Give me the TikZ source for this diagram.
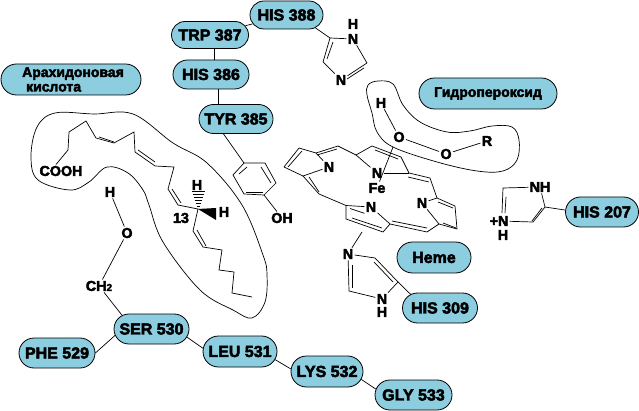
\documentclass[tikz,border=0pt]{standalone}
\usepackage{fontspec}
\usepackage{tikz}
\usetikzlibrary{shapes.misc}
\newfontfamily\chemfont{Liberation Sans}[BoldFeatures={FakeBold=3}]
\definecolor{pillblue}{RGB}{140,205,224}
\tikzset{
    pill/.style={rounded rectangle, draw=black, fill=pillblue, text centered, line width=0.8pt, minimum width=75pt, minimum height=30pt, inner sep=0pt, font=\chemfont\bfseries\fontsize{16}{16}\selectfont},
    textpill/.style={pill, font=\chemfont\bfseries\fontsize{14}{14.5}\selectfont},
    atom/.style={inner sep=1.2pt, font=\chemfont\bfseries\fontsize{14.3}{14}\selectfont},
    bond/.style={line width=0.7pt, line join=miter},
    outline/.style={line width=0.7pt, smooth cycle, tension=0.6}
}
\begin{document}
\begin{tikzpicture}[x=1pt, y=-1pt]
    \useasboundingbox (0,0) rectangle (639,411);

    % Residue pills
    \node (HIS388) [pill, minimum width=73pt, minimum height=28pt] at (286.5,15) {HIS 388};
    \node (TRP387) [pill, minimum width=77pt, minimum height=27pt] at (210,35) {TRP 387};
    \node (HIS386) [pill, minimum width=76pt, minimum height=29pt] at (211,74.5) {HIS 386};
    \node (TYR385) [pill, minimum width=74pt, minimum height=29pt] at (236,119) {TYR 385};
    \node (HIS207) [pill, minimum width=73pt] at (602,212) {HIS 207};
    \node (HIS309) [pill] at (440,308) {HIS 309};
    \node (SER530) [pill] at (151.5,329) {SER 530};
    \node (PHE529) [pill, minimum width=76pt] at (57,353) {PHE 529};
    \node (LEU531) [pill, minimum width=74pt, minimum height=31pt] at (240,351.5) {LEU 531};
    \node (LYS532) [pill, minimum width=72pt, minimum height=31pt] at (327,371.5) {LYS 532};
    \node (GLY533) [pill, minimum width=77pt] at (413.5,395) {GLY 533};
    \node (acid) [textpill, minimum width=140pt, minimum height=31pt, align=left] at (71,79.5) {\hspace*{4pt}Арахидоновая\\\hspace*{8pt}кислота};
    \node (peroxide) [textpill, minimum width=138pt, minimum height=31pt] at (488,93.5) {Гидропероксид};
    \node (heme) [pill, minimum width=74pt, minimum height=31pt] at (434,257.5) {Heme};

    % Residue links
    \draw [bond] (TRP387) -- (HIS388);
    \draw [bond] ([xshift=4.5pt]TRP387.south) -- ([xshift=3.5pt]HIS386.north);
    \draw [bond] ([xshift=7pt]HIS386.south) -- ([xshift=-18pt]TYR385.north);
    \draw [bond] (SER530.190) -- (PHE529.0);
    \draw [bond] (SER530.-13) -- (LEU531.175);
    \draw [bond] (LEU531.-13) -- (LYS532.176);
    \draw [bond] (LYS532.-13) -- (GLY533.171);

    % Arachidonic acid
    \draw [outline] plot coordinates {(133,114) (94,114) (55,113) (37,127) (31,157) (38,180) (70,190) (89,182) (107,167) (128,173) (143,190) (149,205) (163,242) (200,290) (233,310) (252,318) (265,302) (267,275) (263,255) (242,205) (207,163) (173,143)};
    \node (COOH) [atom] at (61,171) {COOH};
    \coordinate (c13) at (198,209);
    \draw [bond] ([xshift=-5pt]COOH.north) -- (68,150) -- (69,132) -- (86,121) -- (96,138) -- (114,143) -- (134,132) -- (135,152) -- (155,166) -- (174,167) -- (168,189) -- (178,205) -- (c13) -- (193,231) -- (203,247) -- (222,250) -- (219,270) -- (234,272) -- (232,293) -- (252,297);
    \draw [bond] (99,137) -- (114,142);
    \draw [bond] (138,150) -- (155,162);
    \draw [bond] (172,189) -- (181,203);
    \draw [bond] (197,230) -- (206,246);
    \node (c13label) [atom] at (181,218) {13};
    \node (Htop) [atom] at (197,185) {H};
    \node (Hright) [atom] at (224,212) {H};
    \fill (c13) -- (216,208) -- (216,220) -- cycle;
    \draw [bond] (191.5,191) -- (204.5,191);
    \draw [bond] (192.5,194) -- (203.5,194);
    \draw [bond] (193.5,197) -- (202.5,197);
    \draw [bond] (194.5,200) -- (201.5,200);
    \draw [bond] (195.5,203) -- (200.5,203);
    \draw [bond] (196.5,206) -- (199.5,206);

    % Tyrosine ring
    \coordinate (tyr1) at (244,163);
    \coordinate (tyr2) at (265,163);
    \coordinate (tyr3) at (276,183);
    \coordinate (tyr4) at (264,195);
    \coordinate (tyr5) at (244,194);
    \coordinate (tyr6) at (233,175);
    \node (OH) [atom] at (282,218) {OH};
    \draw [bond] (TYR385.-130) -- (tyr1);
    \draw [bond] (tyr1) -- (tyr2) -- (tyr3) -- (tyr4) -- (tyr5) -- (tyr6) -- cycle;
    \draw [bond] (239,174) -- (247,167);
    \draw [bond] (261,167) -- (271,183);
    \draw [bond] (246,192) -- (263,192);
    \draw [bond] (tyr4) -- (OH);

    % Serine side chain
    \node (Hser) [atom] at (110,192) {H};
    \node (Oser) [atom] at (127,233) {O};
    \node (CH2) [atom] at (99,286) {CH{\fontsize{10}{10}\selectfont 2}};
    \draw [bond] (Hser) -- (Oser);
    \draw [bond] (Oser) -- (CH2);
    \draw [bond] (CH2) -- (SER530.155);

    % HIS 388 imidazole
    \node (Nhis388) [atom] at (353,39) {N};
    \node (Hhis388) [atom, inner sep=0pt] at (353,24) {H};
    \node (Nbhis388) [atom] at (341,80) {N};
    \coordinate (im1) at (330,38);
    \coordinate (im2) at (367,63);
    \coordinate (im3) at (323,62);
    \draw [bond] (HIS388.-24) -- (im1);
    \draw [bond] (im1) -- (Nhis388);
    \draw [bond] (Nhis388) -- (im2);
    \draw [bond] (im2) -- (Nbhis388);
    \draw [bond] (Nbhis388) -- (im3);
    \draw [bond] (im3) -- (im1);
    \draw [bond] (364,68) -- (347,79);
    \draw [bond] (327,59) -- (333,42);

    % Hydroperoxide
    \draw [outline] plot coordinates {(368,85) (378,81) (393,84) (403,105) (420,122) (447,132) (470,131) (492,126) (512,127) (519,140) (517,160) (503,171) (477,171) (437,162) (393,147) (377,132) (372,113) (367,95)};
    \node (Hper) [atom] at (381,103) {H};
    \node (O1) [atom] at (399,137) {O};
    \node (O2) [atom] at (446,154) {O};
    \node (R) [atom] at (487,141) {R};
    \draw [bond] (Hper) -- (O1);
    \draw [bond] (O1) -- (O2);
    \draw [bond] (O2) -- (R);

    % Heme atoms
    \node (Na) [atom] at (329,167) {N};
    \node (Nb) [atom] at (377,173) {N};
    \node (Fe) [atom] at (377,188) {Fe};
    \node (Nc) [atom] at (371,207) {N};
    \node (Nd) [atom] at (422,203) {N};

    % Heme skeleton
    \coordinate (a1) at (284,167);
    \coordinate (a2) at (299,148);
    \coordinate (a3) at (316,153);
    \coordinate (a4) at (303,176);
    \coordinate (m1) at (319,194);
    \coordinate (m2) at (338,146);
    \coordinate (b1) at (356,155);
    \coordinate (b2) at (372,146);
    \coordinate (b3) at (401,157);
    \coordinate (b4) at (409,173);
    \coordinate (m3) at (430,178);
    \coordinate (d1) at (437,198);
    \coordinate (d2) at (455,206);
    \coordinate (d3) at (457,229);
    \coordinate (d4) at (439,224);
    \coordinate (m4) at (427,232);
    \coordinate (c1) at (390,224);
    \coordinate (c2) at (383,232);
    \coordinate (c3) at (346,219);
    \coordinate (c4) at (346,205.5);
    \coordinate (ironO) at (393,147);
    \draw [bond] (a1) -- (a2) -- (a3) -- (Na);
    \draw [bond] (a1) -- (a4) -- (Na);
    \draw [bond] (a4) -- (m1) -- (c4);
    \draw [bond] (288,167) -- (302,151);
    \draw [bond] (309,177) -- (319,192);
    \draw [bond] (a3) -- (m2) -- (b1) -- (b2) -- (b3) -- (b4) -- (m3) -- (d1);
    \draw [bond] (317,155) -- (337,149);
    \draw [bond] (375,150) -- (398,159);
    \draw [bond] (408,177) -- (429,182);
    \draw [bond] (b1) -- (Nb);
    \draw [bond] (Nb) -- (b4);
    \draw [bond] (d1) -- (Nd);
    \draw [bond] (d1) -- (d2) -- (d3) -- (d4) -- (Nd);
    \draw [bond] (438,202) -- (453,208);
    \draw [bond] (443,223) -- (456,228);
    \draw [bond] (d4) -- (m4) -- (c1) -- (Nc);
    \draw [bond] (427,228) -- (392,221);
    \draw [bond] (c1) -- (c2) -- (c3) -- (c4) -- (Nc);
    \draw [bond] (382,228) -- (352,218);
    \draw [bond] (350,208.5) -- (Nc.south west);
    \draw [bond] (Fe) -- (ironO);

    % HIS 309 imidazole
    \node (Nhis309) [atom] at (348,254) {N};
    \node (Nbhis309) [atom] at (382,299) {N};
    \node (Hhis309) [atom, inner sep=0pt] at (382,312) {H};
    \coordinate (hemeN) at (362,232);
    \coordinate (ip1) at (375,258);
    \coordinate (ip2) at (398,282);
    \coordinate (ip3) at (349,291);
    \draw [bond] (hemeN) -- (Nhis309);
    \draw [bond] (Nhis309) -- (ip1) -- (ip2) -- (Nbhis309);
    \draw [bond] (Nbhis309) -- (ip3) -- (Nhis309);
    \draw [bond] (374,262) -- (393,282);
    \draw [bond] (352,265) -- (352,288);
    \draw [bond] (ip2) -- (HIS309.155);

    % HIS 207 imidazole
    \node (NHhis207) [atom] at (540,187) {NH};
    \node (Nhis207) [atom] at (499,221) {+N};
    \node (Hhis207) [atom, inner sep=0pt] at (503,235) {H};
    \coordinate (iq1) at (503,188);
    \coordinate (iq2) at (545,207);
    \coordinate (iq3) at (533,222);
    \draw [bond] (NHhis207) -- (iq1) -- (502,213);
    \draw [bond] (NHhis207) -- (iq2) -- (iq3) -- (Nhis207);
    \draw [bond] (506,197) -- (505,213);
    \draw [bond] (542,208) -- (532,221);
    \draw [bond] (iq2) -- (HIS207.177);
\end{tikzpicture}
\end{document}
